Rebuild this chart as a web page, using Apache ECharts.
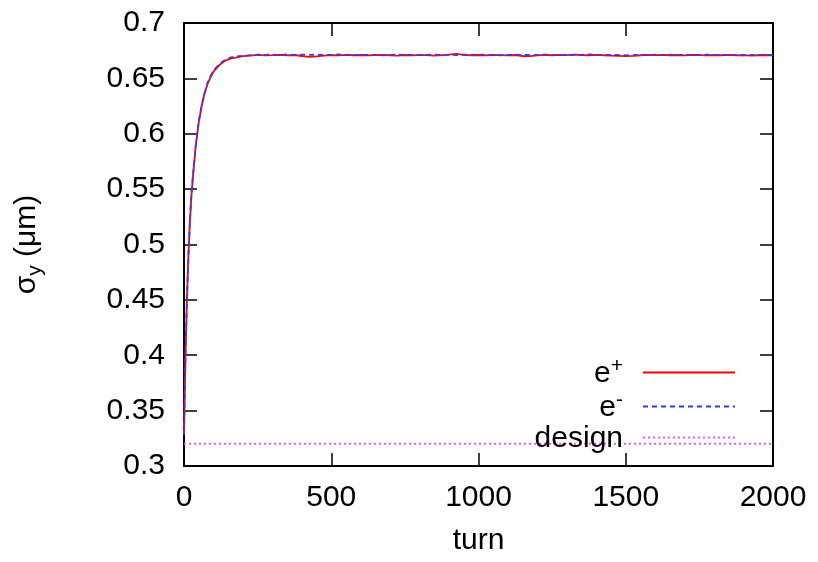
<!DOCTYPE html>
<html>
<head>
<meta charset="utf-8">
<script src="https://cdn.jsdelivr.net/npm/echarts/dist/echarts.min.js"></script>
<style>html,body{margin:0;padding:0;background:#fff}#c{width:818px;height:562px}</style>
</head>
<body>
<div id="c"></div>
<script>
// ---- data ----
const turns = [0,5,10,15,20,25,30,40,50,60,70,80,90,100,120,140,160,180,
  200,225,250,275,300,325,350,375,400,425,
  450,475,500,525,550,575,600,625,650,675,
  700,725,750,775,800,825,850,875,900,925,
  950,975,1000,1025,1050,1075,1100,1125,1150,1175,
  1200,1225,1250,1275,1300,1325,1350,1375,1400,1425,
  1450,1475,1500,1525,1550,1575,1600,1625,1650,1675,
  1700,1725,1750,1775,1800,1825,1850,1875,1900,1925,
  1950,1975,2000];

const ePlus = [0.330,0.400,0.450,0.490,0.520,0.543,0.560,0.590,0.610,0.625,0.637,0.645,0.651,0.656,0.662,0.666,0.668,0.669,
  0.6700,0.6705,0.6712,0.6708,0.6710,0.6713,0.6707,0.6711,0.6702,0.6695,
  0.6698,0.6706,0.6710,0.6708,0.6712,0.6709,0.6711,0.6707,0.6710,0.6713,
  0.6709,0.6706,0.6711,0.6708,0.6712,0.6710,0.6706,0.6710,0.6714,0.6722,
  0.6713,0.6709,0.6711,0.6708,0.6712,0.6710,0.6707,0.6711,0.6702,0.6700,
  0.6708,0.6712,0.6709,0.6713,0.6710,0.6714,0.6711,0.6708,0.6712,0.6709,
  0.6706,0.6703,0.6700,0.6704,0.6709,0.6712,0.6710,0.6713,0.6709,0.6711,
  0.6708,0.6712,0.6710,0.6707,0.6711,0.6709,0.6712,0.6708,0.6710,0.6706,
  0.6709,0.6711,0.6708];

const eMinus = [0.328,0.398,0.452,0.488,0.521,0.545,0.561,0.589,0.611,0.626,0.636,0.646,0.652,0.657,0.663,0.667,0.669,0.670,
  0.6702,0.6710,0.6714,0.6712,0.6715,0.6711,0.6716,0.6713,0.6715,0.6712,
  0.6714,0.6711,0.6713,0.6716,0.6712,0.6710,0.6714,0.6711,0.6713,0.6709,
  0.6712,0.6715,0.6711,0.6713,0.6710,0.6712,0.6715,0.6711,0.6713,0.6710,
  0.6714,0.6712,0.6716,0.6711,0.6713,0.6709,0.6712,0.6714,0.6710,0.6713,
  0.6711,0.6715,0.6712,0.6710,0.6714,0.6711,0.6713,0.6716,0.6712,0.6710,
  0.6713,0.6711,0.6708,0.6710,0.6713,0.6711,0.6714,0.6712,0.6715,0.6711,
  0.6713,0.6710,0.6712,0.6714,0.6711,0.6713,0.6710,0.6712,0.6709,0.6711,
  0.6713,0.6710,0.6712];

const designTurns = [0, 2000];
const designValues = [0.32, 0.32];

const seriesNames = ['e+', 'e-', 'design'];
const xTicks = [0, 500, 1000, 1500, 2000];
const yTicks = [0.3, 0.35, 0.4, 0.45, 0.5, 0.55, 0.6, 0.65, 0.7];

// ---- chart ----
const FONT = 'Liberation Sans, Arial, Helvetica, sans-serif';
const FS = 30;
const chart = echarts.init(document.getElementById('c'), null, {renderer: 'canvas'});

function pairs(xs, ys) { return xs.map((x, i) => [x, ys[i]]); }

const frameLine = {show: true, onZero: false, lineStyle: {color: '#000', width: 2}};
const tickStyle = {show: true, inside: true, length: 13, lineStyle: {color: '#000', width: 1.5}};

const xBase = {
  type: 'value', min: xTicks[0], max: xTicks[xTicks.length - 1], interval: 500,
  axisLine: frameLine, axisTick: tickStyle, splitLine: {show: false}
};
const yBase = {
  type: 'value', min: yTicks[0], max: yTicks[yTicks.length - 1], interval: 0.05,
  axisLine: frameLine, axisTick: tickStyle, splitLine: {show: false}
};

chart.setOption({
  animation: false,
  backgroundColor: '#fff',
  grid: {left: 184, right: 45, top: 23, bottom: 96, containLabel: false},
  xAxis: [
    Object.assign({}, xBase, {
      position: 'bottom',
      axisLabel: {color: '#000', fontSize: FS, fontFamily: FONT, margin: 17,
        formatter: v => String(v)},
      name: 'turn', nameLocation: 'middle', nameGap: 60,
      nameTextStyle: {color: '#000', fontSize: FS, fontFamily: FONT}
    }),
    Object.assign({}, xBase, {position: 'top', axisLabel: {show: false}})
  ],
  yAxis: [
    Object.assign({}, yBase, {
      position: 'left',
      axisLabel: {color: '#000', fontSize: FS, fontFamily: FONT, margin: 19,
        formatter: v => String(+v.toFixed(2))},
      name: '{g|σ}{sub|y}{g| (μm)}', nameLocation: 'middle', nameGap: 138,
      nameTextStyle: {color: '#000', fontFamily: FONT,
        rich: {
          g: {fontSize: FS, fontFamily: FONT, color: '#000', lineHeight: 34, verticalAlign: 'top'},
          sub: {fontSize: 21, fontFamily: FONT, color: '#000', lineHeight: 34, verticalAlign: 'bottom'}
        }}
    }),
    Object.assign({}, yBase, {position: 'right', axisLabel: {show: false}})
  ],
  legend: {
    data: seriesNames,
    orient: 'vertical',
    right: 77, top: 351,
    align: 'right',
    itemWidth: 92, itemHeight: 14, itemGap: 1,
    itemStyle: {opacity: 0},
    formatter: function (name) {
      if (name === 'e+') return '{m|e}{s|+}';
      if (name === 'e-') return '{m|e}{s|-}';
      return '{m|' + name + '}';
    },
    textStyle: {
      padding: [0, 15, 0, 0],
      rich: {
        m: {fontSize: FS, fontFamily: FONT, color: '#000', lineHeight: 33, verticalAlign: 'bottom'},
        s: {fontSize: 21, fontFamily: FONT, color: '#000', lineHeight: 21, verticalAlign: 'top'}
      }
    }
  },
  series: [
    {
      name: seriesNames[0], type: 'line', data: pairs(turns, ePlus),
      symbol: 'none', showSymbol: false, smooth: false,
      lineStyle: {color: '#ff0000', width: 1.8}, itemStyle: {color: '#ff0000'}, z: 2
    },
    {
      name: seriesNames[1], type: 'line', data: pairs(turns, eMinus),
      symbol: 'none', showSymbol: false, smooth: false,
      lineStyle: {color: '#2b3cff', width: 1.8, type: [5, 4]}, itemStyle: {color: '#2b3cff'}, z: 3
    },
    {
      name: seriesNames[2], type: 'line', data: pairs(designTurns, designValues),
      symbol: 'none', showSymbol: false,
      lineStyle: {color: '#ff55ff', width: 2, type: [2, 3]}, itemStyle: {color: '#ff55ff'}, z: 1
    }
  ]
});
</script>
</body>
</html>
